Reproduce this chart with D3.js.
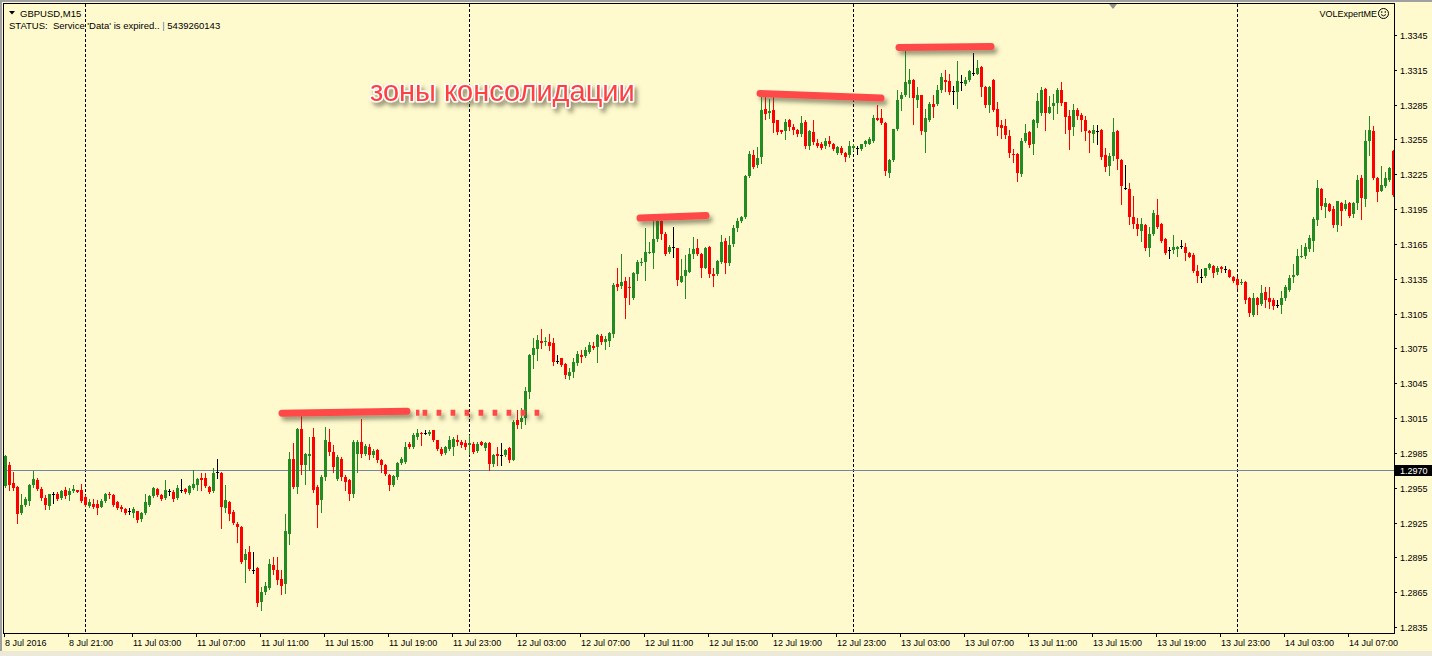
<!DOCTYPE html>
<html><head><meta charset="utf-8">
<script src="https://cdn.jsdelivr.net/npm/d3@7"></script>
<style>html,body{margin:0;padding:0;background:#FFFACD;overflow:hidden}svg{display:block}</style>
</head><body><svg id="c" width="1432" height="656"></svg>
<script>
// ---- DATA: GBPUSD M15 bars, [open, high, low, close] ----
const bars8Jul = [
[1.29562,1.29830,1.29560,1.29821],[1.29743,1.29772,1.29528,1.29571],[1.29591,1.29686,1.29528,1.29551],[1.29556,1.29562,1.29246,1.29327],
[1.29332,1.29499,1.29327,1.29398],[1.29398,1.29470,1.29390,1.29456],[1.29436,1.29579,1.29398,1.29571],[1.29571,1.29694,1.29556,1.29622],
[1.29620,1.29637,1.29533,1.29542],[1.29536,1.29556,1.29447,1.29464],[1.29462,1.29485,1.29367,1.29398],[1.29390,1.29499,1.29367,1.29493],
[1.29499,1.29510,1.29418,1.29499],[1.29493,1.29510,1.29441,1.29453],[1.29459,1.29533,1.29453,1.29519],[1.29533,1.29556,1.29464,1.29476],
[1.29485,1.29551,1.29441,1.29519],[1.29519,1.29574,1.29513,1.29536],[1.29528,1.29533,1.29510,1.29516],[1.29528,1.29579,1.29427,1.29436]
];
const bars11Jul = [
[1.29470,1.29485,1.29390,1.29398],[1.29390,1.29456,1.29384,1.29424],[1.29407,1.29456,1.29378,1.29381],[1.29407,1.29441,1.29327,1.29375],
[1.29384,1.29456,1.29381,1.29436],[1.29433,1.29505,1.29427,1.29493],[1.29499,1.29510,1.29464,1.29485],[1.29485,1.29499,1.29395,1.29401],
[1.29427,1.29436,1.29370,1.29378],[1.29384,1.29398,1.29350,1.29364],[1.29370,1.29375,1.29327,1.29332],[1.29347,1.29372,1.29327,1.29347],
[1.29332,1.29384,1.29298,1.29364],[1.29347,1.29350,1.29255,1.29269],[1.29278,1.29341,1.29263,1.29332],[1.29332,1.29499,1.29327,1.29424],
[1.29398,1.29485,1.29390,1.29476],[1.29476,1.29556,1.29470,1.29551],[1.29542,1.29551,1.29476,1.29485],[1.29485,1.29499,1.29441,1.29453],
[1.29459,1.29614,1.29453,1.29528],[1.29522,1.29542,1.29485,1.29522],[1.29510,1.29528,1.29436,1.29453],[1.29464,1.29571,1.29453,1.29551],
[1.29528,1.29622,1.29510,1.29528],[1.29542,1.29551,1.29505,1.29513],[1.29505,1.29571,1.29499,1.29562],[1.29551,1.29706,1.29542,1.29585],
[1.29576,1.29637,1.29528,1.29622],[1.29631,1.29677,1.29528,1.29614],[1.29637,1.29677,1.29556,1.29562],[1.29556,1.29562,1.29508,1.29516],
[1.29519,1.29720,1.29513,1.29674],[1.29686,1.29801,1.29634,1.29686],[1.29677,1.29686,1.29206,1.29384],[1.29375,1.29571,1.29341,1.29441],
[1.29430,1.29436,1.29275,1.29321],[1.29338,1.29355,1.29235,1.29246],[1.29240,1.29255,1.29082,1.29212],[1.29212,1.29217,1.28901,1.28910],
[1.28930,1.29025,1.28738,1.28976],[1.28993,1.29045,1.28844,1.28852],[1.28844,1.28999,1.28815,1.28844],[1.28861,1.28867,1.28528,1.28557],
[1.28565,1.28694,1.28493,1.28651],[1.28648,1.28738,1.28637,1.28700],[1.28689,1.28939,1.28680,1.28890],[1.28881,1.28953,1.28809,1.28844],
[1.28838,1.28953,1.28717,1.28752],[1.28766,1.28838,1.28637,1.28703],[1.28717,1.29327,1.28643,1.29174],[1.29154,1.29858,1.29062,1.29798],
[1.29801,1.29936,1.29551,1.29556],[1.29556,1.30065,1.29505,1.30055],[1.30059,1.30174,1.29671,1.29743],[1.29743,1.29849,1.29585,1.29844],
[1.29824,1.29987,1.29700,1.29844],[1.29987,1.30068,1.29513,1.29528],[1.29556,1.29571,1.29210,1.29398],[1.29441,1.29657,1.29338,1.29643],
[1.29643,1.30073,1.29614,1.29959],[1.29944,1.30059,1.29829,1.29858],[1.29858,1.29915,1.29686,1.29729],[1.29628,1.29829,1.29614,1.29815],
[1.29801,1.29815,1.29614,1.29643],[1.29643,1.29657,1.29528,1.29599],[1.29614,1.29628,1.29441,1.29499],[1.29499,1.29959,1.29470,1.29944],
[1.29844,1.29959,1.29686,1.29944],[1.29944,1.30145,1.29815,1.29844],[1.29844,1.29930,1.29829,1.29907],[1.29901,1.29930,1.29801,1.29829],
[1.29829,1.29887,1.29815,1.29864],[1.29872,1.29887,1.29772,1.29786],[1.29786,1.29801,1.29686,1.29743],[1.29743,1.29757,1.29657,1.29671],
[1.29657,1.29671,1.29528,1.29571],[1.29571,1.29657,1.29562,1.29648],[1.29643,1.29772,1.29628,1.29763],[1.29763,1.29815,1.29757,1.29801],
[1.29772,1.29944,1.29763,1.29901],[1.29924,1.29944,1.29895,1.29901],[1.29901,1.30022,1.29895,1.30002],[1.29987,1.30059,1.29973,1.30022],
[1.30025,1.30030,1.29915,1.30013],[1.30025,1.30051,1.30010,1.30025],[1.30010,1.30045,1.30002,1.30030],[1.30045,1.30051,1.29953,1.29959],
[1.29959,1.29964,1.29878,1.29887],[1.29887,1.29901,1.29835,1.29844],[1.29849,1.29907,1.29844,1.29901],[1.29884,1.29993,1.29872,1.29964],
[1.29901,1.29987,1.29829,1.29973],[1.29964,1.30002,1.29915,1.29944],[1.29944,1.29964,1.29901,1.29915],[1.29936,1.29959,1.29887,1.29901]
];
const bars12Jul = [
[1.29921,1.30002,1.29844,1.29936],[1.29930,1.29944,1.29849,1.29858],[1.29864,1.29944,1.29858,1.29930],[1.29944,1.29950,1.29915,1.29921],
[1.29895,1.29944,1.29872,1.29936],[1.29936,1.29944,1.29700,1.29757],[1.29752,1.29838,1.29734,1.29829],[1.29844,1.29901,1.29743,1.29821],
[1.29829,1.29936,1.29743,1.29829],[1.29829,1.29887,1.29821,1.29878],[1.29895,1.29901,1.29772,1.29786],[1.29792,1.30131,1.29786,1.30117],
[1.30133,1.30219,1.30061,1.30090],[1.30113,1.30234,1.30061,1.30153],[1.30153,1.30420,1.30100,1.30383],[1.30372,1.30699,1.30320,1.30693],
[1.30693,1.30837,1.30578,1.30751],[1.30745,1.30866,1.30650,1.30823],[1.30814,1.30917,1.30751,1.30794],[1.30802,1.30851,1.30779,1.30814],
[1.30808,1.30871,1.30736,1.30774],[1.30794,1.30837,1.30607,1.30630],[1.30642,1.30693,1.30621,1.30642],[1.30665,1.30670,1.30601,1.30607],
[1.30613,1.30621,1.30492,1.30521],[1.30515,1.30584,1.30486,1.30550],[1.30550,1.30670,1.30507,1.30636],[1.30621,1.30728,1.30607,1.30699],
[1.30693,1.30736,1.30636,1.30676],[1.30688,1.30765,1.30679,1.30736],[1.30716,1.30808,1.30708,1.30779],[1.30774,1.30808,1.30745,1.30756],
[1.30765,1.30871,1.30630,1.30866],[1.30860,1.30871,1.30785,1.30808],[1.30808,1.30860,1.30745,1.30831],[1.30814,1.30889,1.30774,1.30880],
[1.30871,1.31311,1.30851,1.31297],[1.31302,1.31446,1.31254,1.31282],[1.31291,1.31561,1.31268,1.31325],[1.31331,1.31368,1.31009,1.31187],
[1.31282,1.31368,1.31130,1.31268],[1.31182,1.31412,1.31176,1.31397],[1.31389,1.31512,1.31340,1.31492],[1.31483,1.31526,1.31469,1.31498],
[1.31498,1.31791,1.31340,1.31578],[1.31570,1.31670,1.31570,1.31584],[1.31570,1.31848,1.31440,1.31693],[1.31693,1.31854,1.31676,1.31848],
[1.31848,1.31854,1.31693,1.31739],[1.31739,1.31751,1.31555,1.31561],[1.31578,1.31641,1.31570,1.31627],[1.31621,1.31799,1.31541,1.31621],
[1.31613,1.31618,1.31297,1.31340],[1.31325,1.31521,1.31320,1.31371],[1.31377,1.31555,1.31187,1.31426],[1.31412,1.31613,1.31406,1.31561],
[1.31561,1.31713,1.31526,1.31607],[1.31613,1.31693,1.31555,1.31561],[1.31561,1.31570,1.31368,1.31446],[1.31446,1.31627,1.31440,1.31618],
[1.31624,1.31630,1.31368,1.31394],[1.31391,1.31440,1.31291,1.31377],[1.31389,1.31512,1.31383,1.31503],[1.31492,1.31728,1.31483,1.31670],
[1.31676,1.31705,1.31397,1.31483],[1.31483,1.31722,1.31469,1.31641],[1.31647,1.31814,1.31636,1.31785],[1.31785,1.31871,1.31762,1.31848],
[1.31848,1.31894,1.31842,1.31883],[1.31883,1.32245,1.31877,1.32239],[1.32239,1.32452,1.32230,1.32423],[1.32417,1.32460,1.32308,1.32317],
[1.32331,1.32489,1.32317,1.32388],[1.32398,1.32915,1.32346,1.32800],[1.32809,1.32915,1.32728,1.32771],[1.32777,1.32901,1.32737,1.32794],
[1.32800,1.32915,1.32613,1.32691],[1.32714,1.32720,1.32599,1.32613],[1.32628,1.32633,1.32605,1.32613],[1.32622,1.32728,1.32556,1.32697],
[1.32714,1.32728,1.32628,1.32656],[1.32656,1.32679,1.32599,1.32628],[1.32633,1.32642,1.32584,1.32599],[1.32599,1.32748,1.32584,1.32691],
[1.32697,1.32714,1.32478,1.32490],[1.32498,1.32628,1.32470,1.32619],[1.32613,1.32720,1.32513,1.32527],[1.32518,1.32556,1.32484,1.32490],
[1.32513,1.32524,1.32467,1.32478],[1.32490,1.32564,1.32478,1.32541],[1.32541,1.32576,1.32495,1.32513],[1.32513,1.32518,1.32461,1.32470],
[1.32432,1.32498,1.32426,1.32484],[1.32478,1.32490,1.32426,1.32432],[1.32432,1.32441,1.32363,1.32403],[1.32412,1.32541,1.32403,1.32490]
];
const bars13Jul = [
[1.32478,1.32513,1.32455,1.32490],[1.32475,1.32498,1.32421,1.32475],[1.32470,1.32513,1.32461,1.32507],[1.32507,1.32547,1.32498,1.32536],
[1.32513,1.32570,1.32507,1.32553],[1.32536,1.32757,1.32530,1.32731],[1.32737,1.32843,1.32714,1.32720],[1.32737,1.32814,1.32685,1.32691],
[1.32691,1.32697,1.32240,1.32277],[1.32260,1.32383,1.32225,1.32369],[1.32369,1.32642,1.32363,1.32636],[1.32636,1.32972,1.32628,1.32886],
[1.32895,1.32958,1.32800,1.32929],[1.32929,1.33375,1.32923,1.33044],[1.33024,1.33159,1.32915,1.33059],[1.33064,1.33073,1.32679,1.32906],
[1.32892,1.33001,1.32829,1.32929],[1.32929,1.32935,1.32593,1.32622],[1.32613,1.32814,1.32441,1.32737],[1.32714,1.32872,1.32708,1.32852],
[1.32857,1.32929,1.32742,1.32834],[1.32852,1.33015,1.32843,1.32978],[1.32978,1.33122,1.32958,1.33087],[1.33064,1.33150,1.32967,1.33044],
[1.33053,1.33116,1.32944,1.32958],[1.32967,1.33007,1.32857,1.32967],[1.32958,1.33222,1.32823,1.33050],[1.33044,1.33102,1.32978,1.33044],
[1.33024,1.33087,1.33015,1.33064],[1.33059,1.33150,1.33053,1.33139],[1.33125,1.33294,1.33102,1.33125],[1.33116,1.33231,1.33110,1.33165],
[1.33173,1.33179,1.32921,1.33001],[1.33001,1.33007,1.32834,1.32843],[1.32843,1.33007,1.32786,1.33001],[1.33059,1.33073,1.32794,1.32800],
[1.32811,1.32870,1.32590,1.32660],[1.32676,1.32719,1.32561,1.32653],[1.32667,1.32725,1.32561,1.32590],[1.32581,1.32633,1.32403,1.32432],
[1.32426,1.32469,1.32360,1.32412],[1.32426,1.32432,1.32196,1.32265],[1.32254,1.32561,1.32236,1.32541],[1.32541,1.32685,1.32532,1.32610],
[1.32618,1.32624,1.32481,1.32504],[1.32512,1.32725,1.32426,1.32719],[1.32696,1.32949,1.32656,1.32883],[1.32782,1.33006,1.32762,1.32972],
[1.32983,1.32992,1.32633,1.32777],[1.32782,1.32926,1.32777,1.32834],[1.32840,1.32943,1.32728,1.32868],[1.32868,1.32992,1.32782,1.32972],
[1.32978,1.33044,1.32848,1.32863],[1.32874,1.32877,1.32610,1.32742],[1.32754,1.32805,1.32469,1.32633],[1.32656,1.32857,1.32590,1.32805],
[1.32800,1.32820,1.32725,1.32748],[1.32762,1.32782,1.32627,1.32719],[1.32719,1.32748,1.32547,1.32627],[1.32627,1.32633,1.32446,1.32604],
[1.32593,1.32676,1.32532,1.32633],[1.32624,1.32676,1.32512,1.32624],[1.32633,1.32639,1.32380,1.32403],[1.32417,1.32475,1.32282,1.32317],
[1.32323,1.32432,1.32245,1.32409],[1.32409,1.32739,1.32374,1.32618],[1.32624,1.32633,1.32294,1.32380],[1.32369,1.32386,1.31995,1.32150],
[1.32130,1.32331,1.32121,1.32130],[1.32124,1.32179,1.31823,1.31886],[1.31886,1.32064,1.31788,1.31823],[1.31823,1.31872,1.31728,1.31782],
[1.31762,1.31872,1.31679,1.31823],[1.31814,1.31823,1.31599,1.31619],[1.31613,1.31800,1.31547,1.31734],[1.31737,1.31943,1.31728,1.31920],
[1.31900,1.32041,1.31788,1.31800],[1.31820,1.31834,1.31670,1.31679],[1.31690,1.31699,1.31564,1.31576],[1.31599,1.31627,1.31527,1.31599],
[1.31599,1.31728,1.31570,1.31624],[1.31610,1.31633,1.31550,1.31627],[1.31633,1.31685,1.31613,1.31633],[1.31627,1.31656,1.31512,1.31576],
[1.31576,1.31584,1.31535,1.31541],[1.31555,1.31576,1.31409,1.31418],[1.31418,1.31469,1.31326,1.31377],[1.31369,1.31435,1.31323,1.31369],
[1.31374,1.31443,1.31369,1.31441],[1.31446,1.31489,1.31438,1.31478],[1.31461,1.31469,1.31369,1.31397],[1.31409,1.31461,1.31392,1.31446],
[1.31452,1.31461,1.31412,1.31435],[1.31432,1.31461,1.31412,1.31432],[1.31426,1.31432,1.31363,1.31369],[1.31369,1.31374,1.31323,1.31334]
];
const bars14Jul = [
[1.31352,1.31369,1.31268,1.31300],[1.31312,1.31349,1.31306,1.31326],[1.31320,1.31335,1.31139,1.31171],[1.31188,1.31191,1.31033,1.31053],
[1.31039,1.31225,1.31033,1.31188],[1.31180,1.31191,1.31047,1.31128],[1.31136,1.31292,1.31122,1.31231],[1.31240,1.31283,1.31105,1.31171],
[1.31188,1.31283,1.31099,1.31154],[1.31168,1.31185,1.31093,1.31113],[1.31125,1.31168,1.31105,1.31125],[1.31128,1.31243,1.31053,1.31180],
[1.31180,1.31292,1.31168,1.31283],[1.31254,1.31386,1.31243,1.31358],[1.31363,1.31478,1.31320,1.31386],[1.31386,1.31608,1.31384,1.31550],
[1.31536,1.31645,1.31536,1.31550],[1.31550,1.31656,1.31527,1.31622],[1.31605,1.31723,1.31588,1.31702],[1.31679,1.31881,1.31588,1.31869],
[1.31858,1.32205,1.31809,1.32133],[1.32125,1.32133,1.31950,1.31973],[1.31967,1.32047,1.31886,1.32004],[1.31996,1.32001,1.31932,1.31938],
[1.31955,1.31973,1.31800,1.31817],[1.31809,1.32018,1.31760,1.32016],[1.32004,1.32010,1.31817,1.31938],[1.31947,1.32030,1.31944,1.31990],
[1.32001,1.32010,1.31886,1.31889],[1.31904,1.32013,1.31881,1.32007],[1.32007,1.32240,1.31947,1.32202],[1.32220,1.32248,1.31863,1.32047],
[1.32041,1.32628,1.31973,1.32533],[1.32533,1.32748,1.32412,1.32633],[1.32619,1.32662,1.32211,1.32217],[1.32220,1.32225,1.32024,1.32096],
[1.32110,1.32323,1.32102,1.32159],[1.32145,1.32268,1.32139,1.32220],[1.32197,1.32317,1.32191,1.32306],[1.32447,1.32456,1.32067,1.32073]
];
const timeLabels = ["8 Jul 2016","8 Jul 21:00","11 Jul 03:00","11 Jul 07:00","11 Jul 11:00","11 Jul 15:00","11 Jul 19:00","11 Jul 23:00",
  "12 Jul 03:00","12 Jul 07:00","12 Jul 11:00","12 Jul 15:00","12 Jul 19:00","12 Jul 23:00","13 Jul 03:00","13 Jul 07:00",
  "13 Jul 11:00","13 Jul 15:00","13 Jul 19:00","13 Jul 23:00","14 Jul 03:00","14 Jul 07:00"];
const barsPerLabel = 16;
const priceTicks = [1.3345,1.3315,1.3285,1.3255,1.3225,1.3195,1.3165,1.3135,1.3105,1.3075,1.3045,1.3015,1.2985,1.2955,1.2925,1.2895,1.2865,1.2835];
const currentPrice = 1.2970;
const daySeparators = [20, 116, 212, 308];
// consolidation zones: [startBar, startPrice, endBar, endPrice, style]
const zoneLines = [
  [69.25, 1.30192, 100.5, 1.30209, "solid"],
  [102.75, 1.30196, 103.6, 1.30196, "stub"],
  [104.4, 1.30196, 133.75, 1.30196, "dotted"],
  [158.75, 1.31873, 175.25, 1.31894, "solid"],
  [188.75, 1.32946, 219, 1.32907, "solid"],
  [223.5, 1.33342, 246.5, 1.33351, "solid"]
];
const annotationText = "зоны консолидации";
const annotationPos = [91.25, 1.32881];
const symbolTitle = "GBPUSD,M15";
const statusText = "STATUS:  Service 'Data' is expired.. ";
const statusId = "5439260143";
const expertName = "VOLExpertME";

// ---- DRAW ----
const bars = [].concat(bars8Jul, bars11Jul, bars12Jul, bars13Jul, bars14Jul);
const W = 1432, H = 656;
const L = 4, R = 1394, T = 4, B = 633;
const svg = d3.select("#c");
const font = "'Liberation Sans', Arial, sans-serif";
const GREEN = "#228B22", RED = "#FF0000";

const x = d3.scaleLinear().domain([0, bars.length - 1]).range([5, 5 + 4 * (bars.length - 1)]);
const y = d3.scaleLinear().domain([1.2835, 1.3345]).range([627, 35]);

const defs = svg.append("defs");
defs.append("clipPath").attr("id", "plot").append("rect").attr("x", L).attr("y", T).attr("width", R - L).attr("height", B - T);
const f = defs.append("filter").attr("id", "sh").attr("filterUnits", "userSpaceOnUse")
  .attr("x", 0).attr("y", 0).attr("width", W).attr("height", H);
f.append("feDropShadow").attr("dx", 3).attr("dy", 4).attr("stdDeviation", 2)
  .attr("flood-color", "#4a4a30").attr("flood-opacity", 0.55);

svg.append("rect").attr("width", W).attr("height", H).attr("fill", "#FFFACD");
svg.append("rect").attr("x", 0).attr("y", 0).attr("width", W).attr("height", 2).attr("fill", "#A0A0A0");
svg.append("rect").attr("x", 0).attr("y", 0).attr("width", 2).attr("height", H).attr("fill", "#A0A0A0");
svg.append("rect").attr("x", 0).attr("y", 651).attr("width", W).attr("height", 5).attr("fill", "#ECE9D8");

// separators
const sep = svg.append("g");
daySeparators.forEach(i => {
  const xx = Math.round(x(i)) + 0.5;
  sep.append("line").attr("x1", xx).attr("x2", xx).attr("y1", T).attr("y2", B)
    .attr("stroke", "#000").attr("stroke-width", 1).attr("stroke-dasharray", "3,2");
});

// current price line
svg.append("line").attr("x1", L).attr("x2", R).attr("y1", Math.round(y(currentPrice)) + 0.5).attr("y2", Math.round(y(currentPrice)) + 0.5)
  .attr("stroke", "#7586A4").attr("stroke-width", 1);

// candles
const cg = svg.append("g").attr("clip-path", "url(#plot)");
bars.forEach((b, i) => {
  const [o, h, l, c] = b;
  const cx = Math.round(x(i));
  const col = c > o ? GREEN : (c < o ? RED : "#000");
  const yh = Math.round(y(h)), yl = Math.round(y(l));
  cg.append("rect").attr("x", cx).attr("y", yh).attr("width", 1).attr("height", Math.max(1, yl - yh + 1)).attr("fill", col);
  const yt = Math.round(y(Math.max(o, c))), yb = Math.round(y(Math.min(o, c)));
  cg.append("rect").attr("x", cx - 1).attr("y", yt).attr("width", 3).attr("height", Math.max(1, yb - yt)).attr("fill", col);
});

// frame
svg.append("rect").attr("x", L - 0.5).attr("y", T - 0.5).attr("width", R - L + 1).attr("height", B - T + 1)
  .attr("fill", "none").attr("stroke", "#000").attr("stroke-width", 1);

// price axis
const pa = svg.append("g");
priceTicks.forEach(p => {
  const yy = Math.round(y(p));
  pa.append("line").attr("x1", R).attr("x2", R + 3).attr("y1", yy + 0.5).attr("y2", yy + 0.5).attr("stroke", "#000");
  pa.append("text").attr("x", 1400).attr("y", yy + 3.5).attr("font-family", font).attr("font-size", 9).attr("fill", "#000").text(p.toFixed(4));
});
const cy = Math.round(y(currentPrice));
pa.append("rect").attr("x", 1395).attr("y", cy - 5).attr("width", W - 1395).attr("height", 11).attr("fill", "#000");
pa.append("text").attr("x", 1400).attr("y", cy + 4).attr("font-family", font).attr("font-size", 9).attr("fill", "#fff").text(currentPrice.toFixed(4));

// time axis
const ta = svg.append("g");
timeLabels.forEach((t, k) => {
  const xx = Math.round(x(k * barsPerLabel));
  ta.append("line").attr("x1", xx - 0.5).attr("x2", xx - 0.5).attr("y1", B).attr("y2", B + 4).attr("stroke", "#000");
  ta.append("text").attr("x", xx).attr("y", 646).attr("font-family", font).attr("font-size", 9).attr("fill", "#000").text(t);
});

// header
svg.append("path").attr("d", "M9,11 L15,11 L12,14.5 Z").attr("fill", "#000");
svg.append("text").attr("x", 20).attr("y", 16.5).attr("font-family", font).attr("font-size", 9.5).attr("fill", "#000").text(symbolTitle);
const st = svg.append("text").attr("x", 9).attr("y", 29).attr("font-family", font).attr("font-size", 9.5).attr("fill", "#000")
  .attr("xml:space", "preserve").style("white-space", "pre");
st.append("tspan").text(statusText);
st.append("tspan").attr("fill", "#4682B4").text("|");
st.append("tspan").text(" " + statusId);
svg.append("text").attr("x", 1377).attr("y", 16.7).attr("text-anchor", "end").attr("font-family", font).attr("font-size", 9).attr("fill", "#000").text(expertName);
const sm = svg.append("g").attr("transform", "translate(1383.5,13.5)");
sm.append("circle").attr("r", 5).attr("fill", "none").attr("stroke", "#000").attr("stroke-width", 1);
sm.append("circle").attr("cx", -1.8).attr("cy", -1.5).attr("r", 0.8).attr("fill", "#000");
sm.append("circle").attr("cx", 1.8).attr("cy", -1.5).attr("r", 0.8).attr("fill", "#000");
sm.append("path").attr("d", "M-2.5,1 Q0,3.8 2.5,1").attr("fill", "none").attr("stroke", "#000").attr("stroke-width", 0.9);
svg.append("path").attr("d", "M1109,4 L1117,4 L1113,9 Z").attr("fill", "#909090");

// annotations
const an = svg.append("g").attr("filter", "url(#sh)");
zoneLines.forEach(z => {
  const ln = an.append("line").attr("x1", x(z[0])).attr("y1", y(z[1])).attr("x2", x(z[2])).attr("y2", y(z[3]))
    .attr("stroke", "#FF4848");
  if (z[4] === "dotted") ln.attr("stroke-width", 6).attr("stroke-dasharray", "4.7,9.3");
  else if (z[4] === "stub") ln.attr("stroke-width", 6);
  else ln.attr("stroke-width", 7).attr("stroke-linecap", "round");
});
svg.append("text").attr("x", x(annotationPos[0])).attr("y", y(annotationPos[1]))
  .attr("font-family", font).attr("font-size", 29).attr("fill", "#FF4040")
  .attr("stroke", "#fff").attr("stroke-width", 3).attr("paint-order", "stroke").attr("stroke-linejoin", "round")
  .attr("filter", "url(#sh)").text(annotationText);
</script></body></html>
